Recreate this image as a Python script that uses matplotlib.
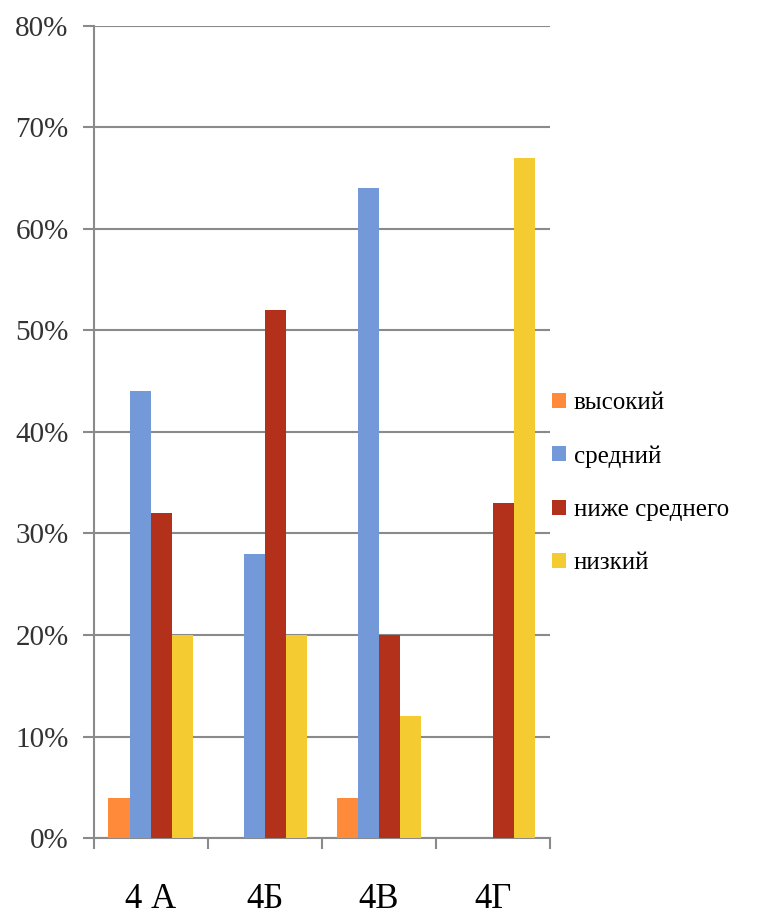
import matplotlib.pyplot as plt
import numpy as np

classes = ['4 А', '4Б', '4В', '4Г']
levels = ['высокий', 'средний', 'ниже среднего', 'низкий']
vysokiy = [4, 0, 4, 0]
sredniy = [44, 28, 64, 0]
nizhe_srednego = [32, 52, 20, 33]
nizkiy = [20, 20, 12, 67]
colors = ['#FF8A3A', '#7399D8', '#B3301B', '#F4CB30']

plt.rcParams['font.family'] = ['Liberation Serif', 'DejaVu Serif']

fig = plt.figure(figsize=(7.74, 9.19), dpi=100)
ax = fig.add_axes([0.121, 0.088, 0.590, 0.884])

x = np.arange(len(classes))
w = 0.185
for i, (vals, lab) in enumerate(zip([vysokiy, sredniy, nizhe_srednego, nizkiy], levels)):
    ax.bar(x + (i - 1.5) * w, vals, w, color=colors[i], label=lab, zorder=3)

ax.set_xlim(-0.5, 3.5)
ax.set_ylim(0, 80)
ax.set_yticks(range(0, 81, 10))
ax.set_yticklabels([f'{v}%' for v in range(0, 81, 10)], fontsize=21, color='#333333')
ax.yaxis.grid(True, color='#8a8a8a', linewidth=1.5, zorder=0)
ax.set_xticks(x)
ax.set_xticklabels(classes, fontsize=25)
ax.set_xticks(np.arange(-0.5, 4, 1), minor=True)
ax.tick_params(axis='x', which='major', length=0, pad=32)
ax.tick_params(axis='x', which='minor', length=8, width=1.5, color='#8a8a8a')
ax.tick_params(axis='y', length=8, width=1.5, color='#8a8a8a', pad=10)

for s in ['top', 'right']:
    ax.spines[s].set_visible(False)
for s in ['left', 'bottom']:
    ax.spines[s].set_color('#8a8a8a')
    ax.spines[s].set_linewidth(1.5)

ax.legend(loc='center left', bbox_to_anchor=(0.955, 0.437), frameon=False,
          fontsize=18, handlelength=0.55, handleheight=0.55, handletextpad=0.3,
          labelspacing=1.25)

fig.savefig('out.png')
